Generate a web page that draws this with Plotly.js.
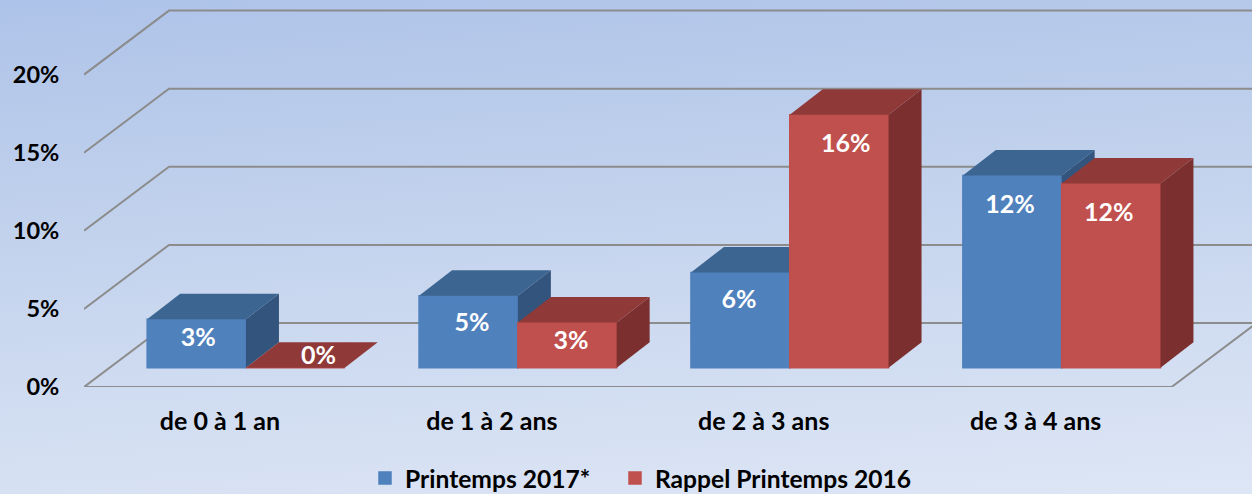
<!DOCTYPE html>
<html>
<head>
<meta charset="utf-8">
<script src="https://cdn.plot.ly/plotly-3.0.1.min.js"></script>
<style>
html,body{margin:0;padding:0;width:1252px;height:494px;overflow:hidden;
background:linear-gradient(176deg,#AEC3E9 0%,#BFD0EC 35%,#D0DCF1 70%,#DDE6F5 100%);}
#chart{width:1252px;height:494px;}
</style>
</head>
<body>
<div id="chart"></div>
<script>
const categories = ["de 0 à 1 an", "de 1 à 2 ans", "de 2 à 3 ans", "de 3 à 4 ans"];
const positions = [0, 1, 2, 3];
const spring2017 = [3.1, 4.6, 6.1, 12.3];
const spring2016 = [0, 2.9, 16.2, 11.8];
const spring2017Labels = ["3%", "5%", "6%", "12%"];
const spring2016Labels = ["0%", "3%", "16%", "12%"];
const yTicks = [0, 5, 10, 15, 20];
const yTickLabels = ["0%", "5%", "10%", "15%", "20%"];

const FONT = "Lato, 'Open Sans', sans-serif";
const pxX = 271.9, pxY = 15.62;           // pixels per axis unit
const xR = [-0.5, -0.5 + 1168 / pxX], yR = [0, 387 / pxY];
const wall = {x: 85 / pxX, y: 64 / pxY};  // depth of the chart floor
const shift = {x: 26 / pxX, y: 19.3 / pxY}; // bars stand inside the floor
const depth = {x: 33 / pxX, y: 25.5 / pxY}; // depth of a bar
const w = 98.8 / pxX;
const nudge2017 = [0, 2, -3, -4], nudge2016 = [0, 2, 5, -4]; // label placement, px

// wall gridlines and floor edge
const gx = [], gy = [];
yTicks.forEach(t => {
  gx.push(xR[0], xR[0] + wall.x, xR[1] + 1, null);
  gy.push(t, t + wall.y, t + wall.y, null);
});
gx.push(xR[0], 3.5, 3.5 + wall.x);
gy.push(0, 0, wall.y);

function faces(values, left) {
  const top = {x: [], y: []}, side = {x: [], y: []};
  values.forEach((v, i) => {
    const L = positions[i] + left, R = L + w, dx = depth.x, dy = depth.y;
    top.x.push(L, R, R + dx, L + dx, L, null);
    top.y.push(v, v, v + dy, v + dy, v, null);
    side.x.push(R, R + dx, R + dx, R, R, null);
    side.y.push(v, v + dy, dy, 0, v, null);
  });
  return {top, side};
}
function poly(d, color, xa, ya) {
  return {x: d.x, y: d.y, xaxis: xa, yaxis: ya, mode: "none", type: "scatter", fill: "toself",
          fillcolor: color, showlegend: false, hoverinfo: "skip"};
}
function bar(name, values, left, color, xa, ya, legend) {
  return {type: "bar", name, legend, x: positions, y: values, width: w, offset: left, xaxis: xa, yaxis: ya,
          marker: {color, line: {color, width: 1.5}}, hoverinfo: "skip"};
}
const drop = v => v <= 0 ? -0.62 : (v < 3.5 ? 1.3 : (v < 10 ? 1.85 : 2.0));
function labels(values, texts, left, nudge, xa, ya) {
  return {type: "scatter", mode: "text", xaxis: xa, yaxis: ya, showlegend: false, hoverinfo: "skip",
    x: values.map((v, i) => positions[i] + left + w / 2 + (v <= 0 ? 0.085 : 0.006) + nudge[i] / pxX),
    y: values.map(v => v - drop(v)),
    text: texts, textposition: "middle center",
    textfont: {family: FONT, size: 25, color: "#FFFFFF", weight: 700}};
}

const f1 = faces(spring2017, -w), f2 = faces(spring2016, 0);
const traces = [
  {type: "scatter", mode: "lines", x: gx, y: gy, line: {color: "#8C8C8C", width: 2}, showlegend: false, hoverinfo: "skip"},
  bar("Printemps 2017*", spring2017, -w, "#4F81BD", "x2", "y2", "legend"),
  poly(f1.side, "#33547C", "x2", "y2"),
  poly(f1.top, "#3D6591", "x2", "y2"),
  bar("Rappel Printemps 2016", spring2016, 0, "#C0504D", "x3", "y3", "legend2"),
  poly(f2.side, "#7B302F", "x3", "y3"),
  poly(f2.top, "#8F3A38", "x3", "y3"),
  labels(spring2017, spring2017Labels, -w, nudge2017, "x3", "y3"),
  labels(spring2016, spring2016Labels, 0, nudge2016, "x3", "y3")
];

const hiddenX = {visible: false, overlaying: "x", range: [xR[0] - shift.x, xR[1] - shift.x], fixedrange: true};
const hiddenY = {visible: false, overlaying: "y", range: [yR[0] - shift.y, yR[1] - shift.y], fixedrange: true};
const legendBase = {orientation: "h", xref: "container", yref: "container", xanchor: "left", y: 1 - 478 / 494, yanchor: "middle",
  font: {family: FONT, size: 24.6, color: "#000000", weight: 700}, bgcolor: "rgba(0,0,0,0)",
  itemclick: false, itemdoubleclick: false};

const layout = {
  width: 1252, height: 494,
  margin: {l: 84, r: 0, t: 0, b: 107, pad: 0},
  paper_bgcolor: "rgba(0,0,0,0)", plot_bgcolor: "rgba(0,0,0,0)",
  xaxis: {range: xR, tickmode: "array", tickvals: positions, ticktext: categories,
          tickfont: {family: FONT, size: 25, color: "#000000", weight: 700},
          showgrid: false, zeroline: false, showline: false, ticks: "outside", ticklen: 12, tickcolor: "rgba(0,0,0,0)", fixedrange: true},
  yaxis: {range: yR, tickmode: "array", tickvals: yTicks, ticktext: yTickLabels,
          tickfont: {family: FONT, size: 23.5, color: "#000000", weight: 700},
          showgrid: false, zeroline: false, showline: false, ticks: "outside", ticklen: 19, tickcolor: "rgba(0,0,0,0)", fixedrange: true},
  xaxis2: Object.assign({anchor: "y2"}, hiddenX),
  yaxis2: Object.assign({anchor: "x2"}, hiddenY),
  xaxis3: Object.assign({anchor: "y3"}, hiddenX),
  yaxis3: Object.assign({anchor: "x3"}, hiddenY),
  showlegend: true,
  legend: Object.assign({x: 365 / 1252}, legendBase),
  legend2: Object.assign({x: 615 / 1252}, legendBase)
};
Plotly.newPlot("chart", traces, layout, {displayModeBar: false, staticPlot: true});
</script>
</body>
</html>
